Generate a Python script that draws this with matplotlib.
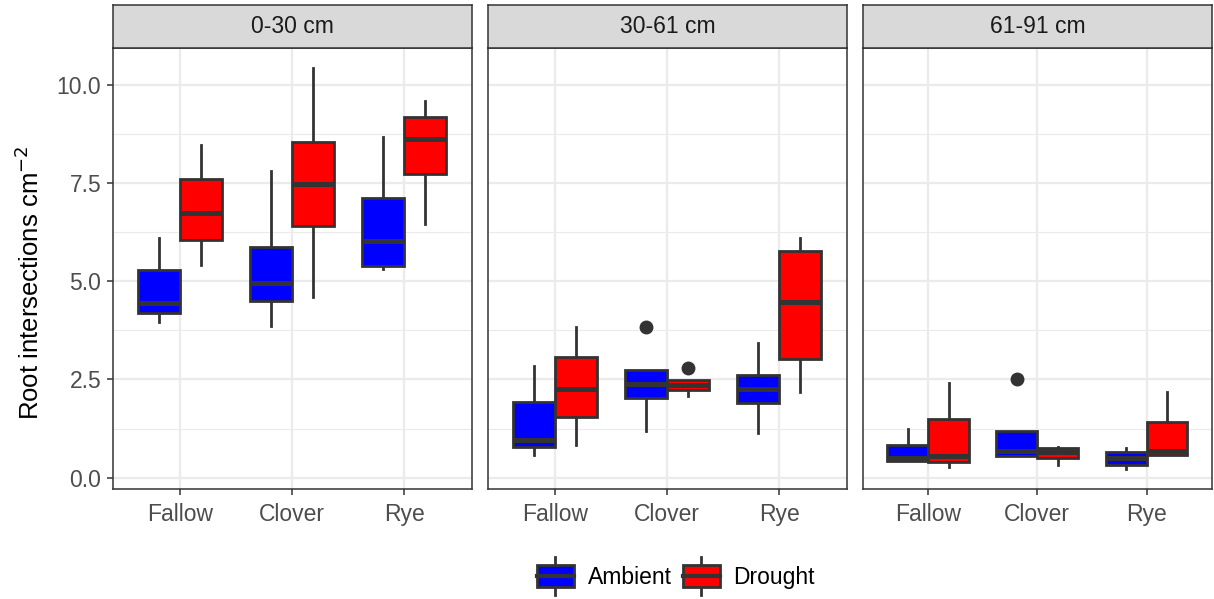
import matplotlib
matplotlib.use("Agg")
import matplotlib.pyplot as plt
from matplotlib.legend_handler import HandlerBase
from matplotlib.patches import Patch, Rectangle
from matplotlib.lines import Line2D
from matplotlib.ticker import MultipleLocator

plt.rcParams["font.family"] = ["Liberation Sans", "DejaVu Sans"]

depths = ["0-30 cm", "30-61 cm", "61-91 cm"]
crops = ["Fallow", "Clover", "Rye"]
treatments = ["Ambient", "Drought"]
colors = {"Ambient": "#0000FF", "Drought": "#FF0000"}

# (whislo, q1, med, q3, whishi) por profundidad -> tratamiento -> cultivo
ambient_0_30 = [(3.96, 4.18, 4.44, 5.29, 6.10), (3.87, 4.50, 4.96, 5.86, 7.81), (5.30, 5.39, 6.02, 7.13, 8.66)]
drought_0_30 = [(5.42, 6.06, 6.73, 7.60, 8.46), (4.59, 6.41, 7.47, 8.55, 10.43), (6.45, 7.74, 8.62, 9.19, 9.58)]
ambient_30_61 = [(0.59, 0.78, 0.97, 1.93, 2.85), (1.18, 2.04, 2.38, 2.74, 2.74), (1.14, 1.91, 2.25, 2.61, 3.44)]
drought_30_61 = [(0.83, 1.54, 2.27, 3.07, 3.84), (2.07, 2.24, 2.37, 2.48, 2.48), (2.18, 3.02, 4.48, 5.76, 6.09)]
ambient_61_91 = [(0.43, 0.43, 0.49, 0.84, 1.23), (0.54, 0.54, 0.67, 1.20, 1.20), (0.22, 0.32, 0.50, 0.66, 0.75)]
drought_61_91 = [(0.27, 0.40, 0.55, 1.50, 2.40), (0.32, 0.50, 0.65, 0.75, 0.77), (0.59, 0.59, 0.68, 1.42, 2.17)]

# puntos atípicos: (profundidad, tratamiento, cultivo) -> valores
outliers = {
    ("30-61 cm", "Ambient", "Clover"): [3.83],
    ("30-61 cm", "Drought", "Clover"): [2.79],
    ("61-91 cm", "Ambient", "Clover"): [2.51],
}

data = {
    "0-30 cm": {"Ambient": ambient_0_30, "Drought": drought_0_30},
    "30-61 cm": {"Ambient": ambient_30_61, "Drought": drought_30_61},
    "61-91 cm": {"Ambient": ambient_61_91, "Drought": drought_61_91},
}

W, H = 1214, 599
fig = plt.figure(figsize=(W / 100, H / 100), dpi=100)

EDGE = "#333333"
GRID = "#EBEBEB"
FS = 16.5
panel_left = [113, 488, 862.7]
panel_w = 358.7
bottom_px, top_px, strip_top_px = 488.7, 48.3, 5

for i, depth in enumerate(depths):
    left = panel_left[i]
    w = min(panel_w, 1212 - left)
    ax = fig.add_axes((left / W, 1 - bottom_px / H, w / W, (bottom_px - top_px) / H))
    sax = fig.add_axes((left / W, 1 - top_px / H, w / W, (top_px - strip_top_px) / H))

    ax.set_xlim(0.4, 3.6)
    ax.set_ylim(-0.28, 10.93)
    ax.yaxis.set_major_locator(MultipleLocator(2.5))
    ax.yaxis.set_minor_locator(MultipleLocator(1.25))
    ax.set_xticks(range(1, 4))
    ax.set_xticklabels(crops)
    ax.grid(True, which="major", color=GRID, lw=1.6, zorder=0)
    ax.grid(True, which="minor", axis="y", color=GRID, lw=0.8, zorder=0)
    ax.set_axisbelow(True)
    ax.tick_params(which="major", length=4, width=1.1, color=EDGE, labelsize=FS,
                   labelcolor="#4D4D4D")
    ax.tick_params(axis="x", pad=6)
    ax.tick_params(axis="y", pad=4.5)
    ax.tick_params(which="minor", length=0)
    if i > 0:
        ax.tick_params(axis="y", left=False, labelleft=False)
    else:
        ax.set_yticks([0, 2.5, 5, 7.5, 10])
        ax.set_yticklabels(["0.0", "2.5", "5.0", "7.5", "10.0"])
    for sp in ax.spines.values():
        sp.set_color(EDGE)
        sp.set_linewidth(1.1)

    for trt in treatments:
        offset = -0.1875 if trt == "Ambient" else 0.1875
        stats = []
        for k, crop in enumerate(crops):
            lo, q1, med, q3, hi = data[depth][trt][k]
            stats.append({"whislo": lo, "q1": q1, "med": med, "q3": q3, "whishi": hi,
                          "fliers": outliers.get((depth, trt, crop), [])})
        ax.bxp(stats, positions=[p + offset for p in range(1, 4)], widths=0.375,
               patch_artist=True, showcaps=False, manage_ticks=False,
               boxprops=dict(facecolor=colors[trt], edgecolor=EDGE, lw=2.0),
               medianprops=dict(color=EDGE, lw=3.6, solid_capstyle="butt"),
               whiskerprops=dict(color=EDGE, lw=2.0),
               flierprops=dict(marker="o", markerfacecolor=EDGE, markeredgecolor=EDGE,
                               markersize=9))

    sax.set_facecolor("#D9D9D9")
    sax.set_xticks([])
    sax.set_yticks([])
    for sp in sax.spines.values():
        sp.set_color(EDGE)
        sp.set_linewidth(1.1)
    sax.text(0.5, 0.5, depth, ha="center", va="center", fontsize=FS, color="#1A1A1A",
             transform=sax.transAxes)

fig.text(30 / W, 1 - 283 / H, "Root intersections cm$^{-2}$", rotation=90,
         ha="center", va="center", fontsize=18.5, color="black")


class BoxKey(HandlerBase):
    def create_artists(self, legend, orig_handle, xdescent, ydescent, width, height,
                       fontsize, trans):
        x0, y0 = -xdescent, -ydescent
        bh = height * 0.72
        by = y0 + (height - bh) / 2
        whisk = Line2D([x0 + width / 2] * 2, [y0 - 3, y0 + height + 3], color=EDGE, lw=2.0,
                       transform=trans)
        box = Rectangle((x0, by), width, bh, facecolor=orig_handle.get_facecolor(),
                        edgecolor=EDGE, lw=2.0, transform=trans)
        med = Line2D([x0, x0 + width], [y0 + height / 2] * 2, color=EDGE, lw=3.0,
                     transform=trans)
        return [whisk, box, med]


handles = [Patch(facecolor=colors[t], label=t) for t in treatments]
fig.legend(handles=handles, loc="center", bbox_to_anchor=(676 / W, 1 - 576 / H), ncol=2,
           frameon=False, fontsize=FS, handler_map={Patch: BoxKey()},
           handlelength=1.6, handleheight=1.6, handletextpad=0.6, columnspacing=0.5)

fig.savefig("out.png", dpi=100, facecolor="white")
